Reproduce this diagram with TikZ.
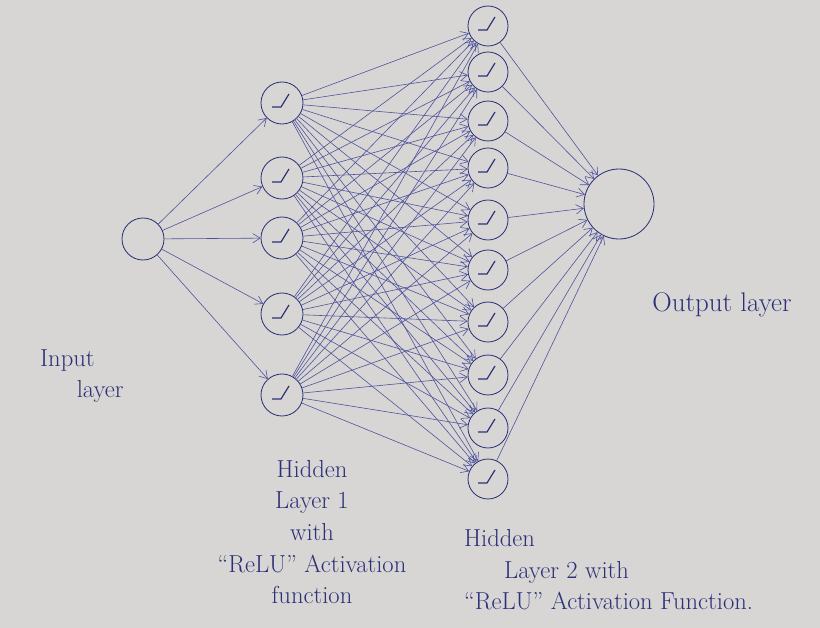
\documentclass[tikz,border=0pt]{standalone}
\usepackage{xcolor}
\usepackage{tikz}
\usetikzlibrary{arrows.meta,positioning}
\definecolor{paper}{HTML}{D7D6D4}
\definecolor{inkblue}{HTML}{2C3078}
\definecolor{wireblue}{HTML}{4E519C}

\begin{document}
\begin{tikzpicture}[x=0.03cm, y=-0.03cm, >={Straight Barb[length=2.2mm, width=2.8mm]},
  every node/.style={font=\fontsize{21}{27}\selectfont, text=inkblue},
  unit/.style={circle, draw=inkblue, line width=0.7pt, inner sep=0pt, minimum size=1.26cm},
  relu/.style={unit, path picture={\draw[inkblue, line width=1pt, shift={(path picture bounding box.center)}] (-10,4) -- (-1,4) -- (7,-9);}},
  wire/.style={->, wireblue, line width=0.5pt},
  note/.style={align=center}]
  \fill[paper] (0,0) rectangle (820,628);
  \useasboundingbox (0,0) rectangle (820,628);

  % layers
  \node[unit] (in) at (143,239) {};
  \foreach \y [count=\i] in {103,178,238,314,395}
    \node[relu] (a\i) at (282,\y) {};
  \foreach \y [count=\i] in {26,72,121,168,220,270,322,375,428,479}
    \node[relu, minimum size=1.2cm] (b\i) at (488,\y) {};
  \node[unit, minimum size=2.1cm] (out) at (619,204) {};

  % connections
  \foreach \i in {1,...,5}
    \draw[wire] (in) -- (a\i);
  \foreach \i in {1,...,5}
    \foreach \j in {1,...,10}
      \draw[wire] (a\i) -- (b\j);
  \foreach \j in {1,...,10}
    \draw[wire] (b\j) -- (out);

  % labels
  \node[note, align=left, anchor=west] (inlbl) at (36,376) {Input\\\hspace*{1.1cm}layer};
  \node[note] (h1lbl) at (312,532) {Hidden\\Layer 1\\with\\``ReLU'' Activation\\function};
  \node[note, align=left, anchor=west] (h2lbl) at (460,570) {Hidden\\\hspace*{1.2cm}Layer 2 with\\``ReLU'' Activation Function.};
  \node[note, font=\fontsize{23}{27}\selectfont] (outlbl) at (722,305) {Output layer};
\end{tikzpicture}
\end{document}
